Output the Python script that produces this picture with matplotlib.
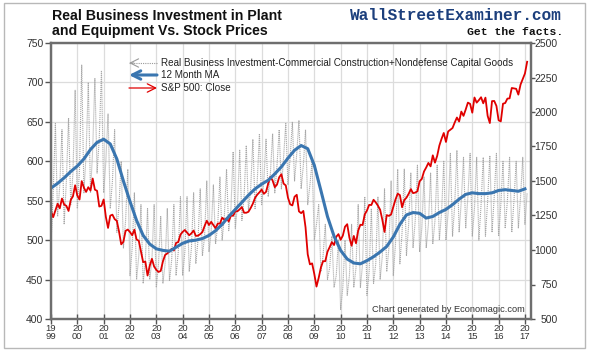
import numpy as np
import matplotlib.pyplot as plt
from matplotlib.patches import Rectangle

plt.rcParams['font.family'] = ['Liberation Sans', 'DejaVu Sans']

# monthly data, Jan 1999 .. Feb 2017
invest = [
    495, 560, 648, 530, 570, 640, 520, 575, 655, 545, 585, 690,   # 1999
    540, 590, 722, 560, 610, 700, 560, 615, 705, 585, 630, 715,   # 2000
    560, 600, 660, 540, 575, 640, 510, 545, 600, 490, 525, 590,   # 2001
    455, 490, 560, 450, 480, 545, 445, 475, 540, 450, 475, 545,   # 2002
    440, 470, 530, 445, 470, 540, 448, 475, 545, 455, 485, 555,   # 2003
    455, 485, 555, 460, 490, 560, 470, 500, 565, 480, 505, 575,   # 2004
    485, 510, 570, 495, 520, 580, 500, 530, 590, 512, 540, 612,   # 2005
    515, 545, 614, 525, 555, 620, 537, 565, 628, 540, 575, 635,   # 2006
    545, 575, 628, 555, 585, 635, 560, 595, 640, 565, 605, 648,   # 2007
    570, 605, 650, 575, 610, 652, 565, 595, 640, 545, 570, 600,   # 2008
    500, 520, 545, 460, 480, 520, 450, 465, 505, 440, 455, 500,   # 2009
    412, 440, 500, 430, 455, 520, 440, 465, 545, 440, 470, 555,   # 2010
    430, 460, 540, 445, 470, 555, 450, 480, 565, 460, 490, 575,   # 2011
    455, 495, 590, 470, 510, 590, 480, 520, 585, 490, 525, 595,   # 2012
    485, 515, 580, 490, 520, 585, 495, 525, 595, 500, 535, 600,   # 2013
    500, 535, 610, 505, 545, 614, 510, 550, 605, 515, 555, 610,   # 2014
    505, 540, 605, 500, 545, 605, 505, 550, 607, 510, 555, 610,   # 2015
    505, 545, 600, 515, 550, 605, 510, 550, 600, 515, 555, 605,   # 2016
    520, 560,                                                     # 2017
]

spx = [
    1280, 1238, 1286, 1335, 1302, 1373, 1329, 1320, 1283, 1363, 1389, 1469,
    1394, 1366, 1499, 1452, 1421, 1455, 1431, 1518, 1437, 1429, 1315, 1320,
    1366, 1240, 1160, 1249, 1256, 1224, 1211, 1134, 1041, 1060, 1139, 1148,
    1130, 1107, 1147, 1076, 1067, 990, 912, 916, 815, 886, 936, 880,
    856, 841, 848, 917, 964, 975, 990, 1008, 996, 1051, 1058, 1112,
    1131, 1145, 1126, 1107, 1121, 1141, 1102, 1104, 1115, 1130, 1174, 1212,
    1181, 1204, 1181, 1157, 1192, 1191, 1234, 1220, 1229, 1207, 1249, 1248,
    1280, 1281, 1295, 1311, 1270, 1270, 1277, 1304, 1336, 1378, 1401, 1418,
    1438, 1407, 1421, 1482, 1531, 1503, 1455, 1474, 1527, 1549, 1481, 1468,
    1379, 1331, 1323, 1386, 1400, 1280, 1267, 1283, 1165, 969, 896, 903,
    826, 735, 798, 873, 919, 919, 987, 1021, 1057, 1036, 1096, 1115,
    1074, 1104, 1169, 1187, 1089, 1031, 1102, 1049, 1141, 1183, 1181, 1258,
    1286, 1327, 1326, 1364, 1345, 1321, 1292, 1219, 1131, 1253, 1247, 1258,
    1312, 1366, 1408, 1398, 1310, 1362, 1379, 1407, 1441, 1412, 1416, 1426,
    1498, 1515, 1569, 1598, 1631, 1606, 1686, 1633, 1682, 1757, 1806, 1848,
    1783, 1859, 1872, 1884, 1924, 1960, 1931, 2003, 1972, 2018, 2068, 2059,
    1995, 2105, 2068, 2086, 2107, 2063, 2104, 1972, 1920, 2079, 2080, 2044,
    1940, 1932, 2060, 2065, 2097, 2099, 2174, 2171, 2168, 2126, 2199, 2239,
    2279, 2364,
]

# 12 month moving average, read quarterly
ma = [
    566, 572, 579, 587, 594, 603, 615, 624, 628, 622, 603, 575,
    549, 525, 506, 495, 489, 487, 486, 491, 496, 499, 500, 502,
    506, 512, 520, 530, 539, 548, 557, 565, 571, 576, 584, 593,
    604, 614, 620, 616, 595, 563, 530, 505, 487, 476, 471, 470,
    474, 479, 485, 492, 504, 520, 532, 535, 534, 528, 530, 535,
    539, 545, 552, 558, 560, 559, 559, 560, 563, 564, 563, 562,
    565,
]

years = list(range(1999, 2018))
year_labels = [f"{y // 100}\n{y % 100:02d}" for y in years]

t_month = 1999 + np.arange(len(invest)) / 12
t_ma = 1999 + np.arange(len(ma)) * 0.25

W, H = 590, 352
fig = plt.figure(figsize=(W / 100, H / 100), dpi=100)
fig.patches.append(Rectangle((4 / W, 4 / H), 581 / W, 345 / H, transform=fig.transFigure,
                             fill=False, edgecolor='#b8b8b8', lw=1))

ax = fig.add_axes([51 / W, 33 / H, 480 / W, 276 / H])
ax.set_xlim(1999, 2017.23)
ax.set_ylim(400, 750)
ax.set_xticks(years)
ax.set_xticklabels(year_labels, linespacing=0.82)
ax.set_yticks(range(400, 751, 50))
ax.grid(True, color='#dcdcdc', lw=0.9)
ax.set_axisbelow(True)

ax.plot(t_month, invest, color='#a8a8a8', lw=0.8, ls=(0, (1, 0.8)))

ax2 = ax.twinx()
ax2.set_ylim(500, 2500)
ax2.set_yticks(range(500, 2501, 250))
ax2.plot(t_month, spx, color='#e00000', lw=1.3)
# moving average drawn over the S&P line
ax2.plot(t_ma, ma, color='#3a76b0', lw=2.2, transform=ax.transData)

for a in (ax, ax2):
    for s in a.spines.values():
        s.set_color('#6e6e6e')
        s.set_linewidth(1.6)

ax.tick_params(axis='y', direction='out', length=4, width=1, color='#555555',
               labelsize=7.5, labelcolor='#333333', pad=1.5)
ax.tick_params(axis='x', direction='inout', length=7, width=1, color='#555555',
               labelsize=6.8, labelcolor='#333333', pad=0)
ax2.tick_params(axis='y', direction='out', length=3, width=1, color='#555555',
                labelsize=7.5, labelcolor='#333333', pad=16)
for lab in ax2.get_yticklabels():
    lab.set_ha('right')

# legend built from arrows, as in the original
def ax_x(px):
    return (px - 51) / 480

def ax_y(py):
    return (319 - py) / 276

legend = [
    ('Real Business Investment-Commercial Construction+Nondefense Capital Goods', 63, '#9a9a9a', 0.8, True),
    ('12 Month MA', 75, '#3a76b0', 2.2, True),
    ('S&P 500: Close', 88, '#e00000', 0.9, False),
]
for label, py, col, lw, left in legend:
    y = ax_y(py)
    x0, x1 = (ax_x(157), ax_x(129)) if left else (ax_x(129), ax_x(157))
    if col == '#9a9a9a':
        ax2.plot([x0, x1], [y, y], transform=ax2.transAxes, color=col, lw=lw,
                 ls=(0, (1, 1)), clip_on=False)
        ax2.annotate('', xy=(x1, y), xytext=(x1 + 0.01, y), xycoords='axes fraction',
                     arrowprops=dict(arrowstyle='->,head_length=0.6,head_width=0.3',
                                     color=col, lw=lw, shrinkA=0, shrinkB=0))
    else:
        ax2.annotate('', xy=(x1, y), xytext=(x0, y), xycoords='axes fraction',
                     arrowprops=dict(arrowstyle='->,head_length=0.6,head_width=0.3',
                                     color=col, lw=lw, shrinkA=0, shrinkB=0))
    ax2.text(ax_x(161), y, label, transform=ax2.transAxes, fontsize=7.1,
             color='#222222', va='center', ha='left')

ax2.text(ax_x(525), ax_y(310), 'Chart generated by Economagic.com', transform=ax2.transAxes,
         fontsize=6.7, color='#333333', ha='right', va='center')

fig.text(52 / W, 1 - 9 / H, 'Real Business Investment in Plant\nand Equipment Vs. Stock Prices',
         fontsize=10.2, fontweight='bold', color='#111111', va='top', ha='left', linespacing=1.05)
fig.text(562 / W, 1 - 16 / H, 'WallStreetExaminer.com', family='Liberation Mono',
         fontsize=11.6, fontweight='bold', color='#1c3f7c', ha='right', va='center')
fig.text(563 / W, 1 - 32 / H, 'Get the facts.', family='Liberation Mono',
         fontsize=8.2, fontweight='bold', color='#111111', ha='right', va='center',
         bbox=dict(facecolor='white', edgecolor='none', pad=0.5))

fig.savefig('out.png', dpi=100)
